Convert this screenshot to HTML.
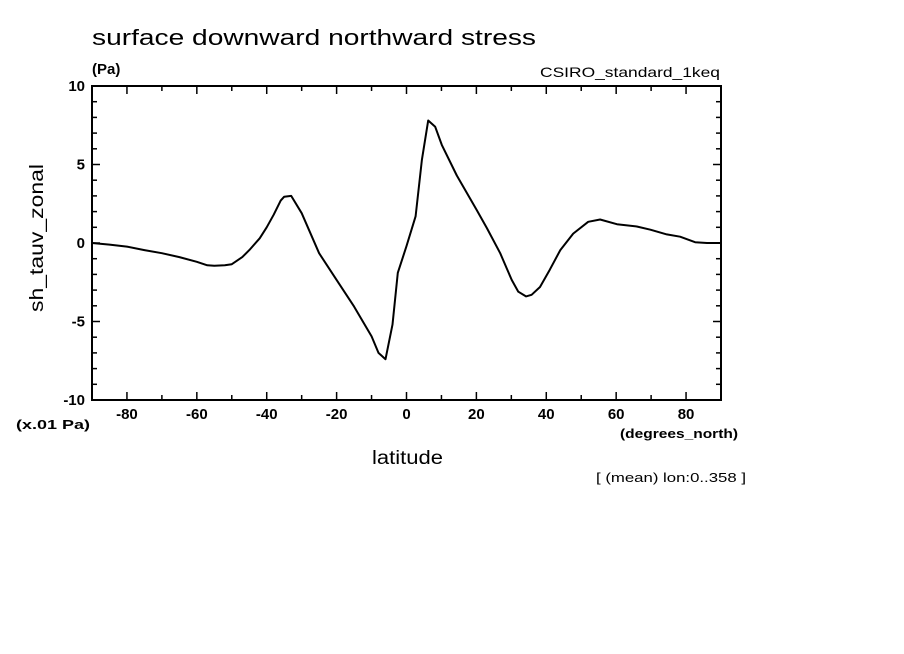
<!DOCTYPE html>
<html><head><meta charset="utf-8"><style>
body{margin:0;background:#fff;}
svg{display:block;font-family:"Liberation Sans",sans-serif;}
</style></head><body>
<svg id="chart" width="904" height="654">
<rect width="904" height="654" fill="#fff"/>
<text x="92" y="45" font-size="22" textLength="444" lengthAdjust="spacingAndGlyphs">surface downward northward stress</text>
<text x="92" y="74" font-size="15" font-weight="bold">(Pa)</text>
<text x="540" y="77" font-size="14" textLength="180" lengthAdjust="spacingAndGlyphs">CSIRO_standard_1keq</text>
<text x="16" y="429" font-size="13" font-weight="bold" textLength="74" lengthAdjust="spacingAndGlyphs">(x.01 Pa)</text>
<text x="620" y="438" font-size="13" font-weight="bold" textLength="118" lengthAdjust="spacingAndGlyphs">(degrees_north)</text>
<text x="372" y="464" font-size="19" textLength="71" lengthAdjust="spacingAndGlyphs">latitude</text>
<text x="596" y="482" font-size="13" textLength="150" lengthAdjust="spacingAndGlyphs">[ (mean) lon:0..358 ]</text>
<text transform="translate(43,238) rotate(-90)" font-size="19" text-anchor="middle" textLength="148" lengthAdjust="spacingAndGlyphs">sh_tauv_zonal</text>
<g id="axes"></g>
<path id="line" fill="none" stroke="#000" stroke-width="2" stroke-linejoin="round"/>
<rect x="92" y="86" width="629" height="314" fill="none" stroke="#000" stroke-width="2"/>
</svg>
<script>
const lats=[-90,-85,-80,-75,-70,-65,-60,-57,-55,-52,-50,-47,-45,-42,-40,-38,-36,-35,-33,-30,-25,-20,-15,-10,-8,-6,-4,-2.5,0,2.6,4.4,6.2,8.2,10.1,14.4,20.1,23,26.8,30.1,32,34.2,35.8,38.2,41,44,47.7,52,55.4,60.2,65.9,69.8,74.5,78.3,82.6,86,90];
const values=[0,-0.1,-0.23,-0.45,-0.65,-0.9,-1.2,-1.42,-1.45,-1.42,-1.35,-0.9,-0.45,0.3,1.0,1.8,2.7,2.95,3.0,1.9,-0.65,-2.35,-4.05,-5.95,-7.0,-7.4,-5.2,-1.9,-0.2,1.7,5.3,7.8,7.4,6.25,4.3,2.1,0.95,-0.65,-2.35,-3.1,-3.4,-3.3,-2.8,-1.7,-0.45,0.6,1.35,1.5,1.2,1.05,0.85,0.55,0.4,0.05,0,0];
const xTicks=[-80,-60,-40,-20,0,20,40,60,80];
const yTicks=[-10,-5,0,5,10];
const X0=92,X1=721,Y0=400,Y1=86;
const xs=v=>X0+(v+90)/180*(X1-X0);
const ys=v=>Y0-(v+10)/20*(Y0-Y1);
const NS="http://www.w3.org/2000/svg";
const ax=document.getElementById('axes');
function ln(x1,y1,x2,y2,w){const l=document.createElementNS(NS,'line');l.setAttribute('x1',x1);l.setAttribute('y1',y1);l.setAttribute('x2',x2);l.setAttribute('y2',y2);l.setAttribute('stroke','#000');l.setAttribute('stroke-width',w);ax.appendChild(l);return l;}
for(let v=-80;v<=80;v+=10){const x=xs(v),len=v%20===0?8:5;
const a=ln(x,Y0,x,Y0-len,1.5);


const b=ln(x,Y1,x,Y1+len,1.5);

}
for(let v=-9;v<=9;v++){const y=ys(v),len=v%5===0?8:5;
const a=ln(X0,y,X0+len,y,1.5);


const b=ln(X1,y,X1-len,y,1.5);

}
xTicks.forEach(v=>{const t=document.createElementNS(NS,'text');t.setAttribute('x',xs(v));t.setAttribute('y',419);t.setAttribute('font-size','15');t.setAttribute('font-weight','bold');t.setAttribute('text-anchor','middle');t.textContent=v;


ax.appendChild(t);});
yTicks.forEach(v=>{const t=document.createElementNS(NS,'text');t.setAttribute('x',85);t.setAttribute('y',ys(v)+5);t.setAttribute('font-size','15');t.setAttribute('font-weight','bold');t.setAttribute('text-anchor','end');t.textContent=v;


ax.appendChild(t);});
document.getElementById('line').setAttribute('d',lats.map((v,i)=>(i?'L':'M')+xs(v).toFixed(1)+','+ys(values[i]).toFixed(1)).join(''));
</script>
</body></html>
